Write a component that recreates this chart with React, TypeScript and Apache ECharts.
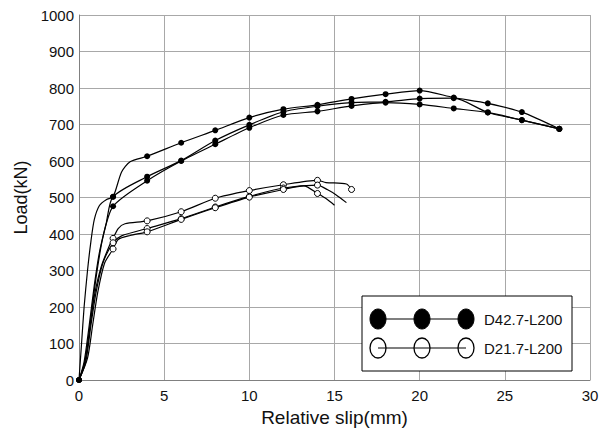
import React, { useEffect, useRef } from "react";
import * as echarts from "echarts";

// [slip (mm), load (kN), marker flag]
const d42A: number[][] = [
  [0, 0, 1], [0.15, 100, 0], [0.3, 200, 0], [0.5, 300, 0], [0.7, 380, 0], [0.9, 440, 0], [1.2, 478, 0], [1.6, 494, 0], [2, 502, 1],
  [2.5, 570, 0], [3, 598, 0], [4, 613, 1], [6, 650, 1], [8, 684, 1], [10, 719, 1], [12, 742, 1], [14, 754, 1],
  [16, 770, 1], [18, 783, 1], [20, 793, 1], [22, 774, 1], [24, 758, 1], [26, 734, 1], [28.2, 688, 1],
];
const d42B: number[][] = [
  [0, 0, 1], [0.3, 50, 0], [0.6, 150, 0], [0.9, 260, 0], [1.2, 350, 0], [1.6, 430, 0], [2, 502, 1],
  [4, 557, 1], [6, 601, 1], [8, 656, 1], [10, 699, 1], [12, 735, 1], [14, 750, 1], [16, 760, 1],
  [18, 762, 1], [20, 771, 1], [22, 772, 1], [24, 733, 1], [26, 712, 1], [28.2, 688, 1],
];
const d42C: number[][] = [
  [0, 0, 1], [0.4, 60, 0], [0.7, 170, 0], [1.0, 280, 0], [1.4, 390, 0], [2, 476, 1],
  [4, 546, 1], [6, 600, 1], [8, 646, 1], [10, 691, 1], [12, 726, 1], [14, 736, 1], [16, 751, 1],
  [18, 760, 1], [20, 755, 1], [22, 744, 1], [24, 733, 1], [26, 712, 1], [28.2, 688, 1],
];
const d21D: number[][] = [
  [0, 0, 0], [0.3, 40, 0], [0.6, 130, 0], [0.9, 230, 0], [1.3, 310, 0], [1.8, 370, 0], [2, 388, 1],
  [2.3, 415, 0], [2.7, 428, 0], [4, 436, 1], [6, 461, 1], [8, 498, 1], [10, 519, 1], [12, 535, 1],
  [14, 547, 1], [14.5, 541, 0], [15.7, 537, 0], [16, 522, 1],
];
const d21E: number[][] = [
  [0, 0, 0], [0.4, 50, 0], [0.7, 150, 0], [1.0, 240, 0], [1.4, 320, 0], [2, 376, 1], [2.5, 395, 0],
  [4, 415, 1], [6, 442, 1], [8, 474, 1], [10, 503, 1], [12, 526, 1], [14, 534, 1],
  [14.6, 521, 0], [15.1, 507, 0], [15.7, 486, 0],
];
const d21F: number[][] = [
  [0, 0, 0], [0.5, 60, 0], [0.8, 150, 0], [1.1, 240, 0], [1.5, 320, 0], [2, 359, 1], [2.3, 385, 0], [3, 396, 0],
  [4, 406, 1], [6, 440, 1], [8, 472, 1], [10, 501, 1], [12, 522, 1], [13.2, 532, 0], [14, 511, 1],
  [14.5, 497, 0], [15, 479, 0],
];

const filledCurves = [d42A, d42B, d42C];
const openCurves = [d21D, d21E, d21F];
const legendNames = ["D42.7-L200", "D21.7-L200"];

const FONT = "Liberation Sans, Arial, sans-serif";

function toData(c: number[][]) {
  return c.map((p) => ({ value: [p[0], p[1]], symbol: p[2] ? "circle" : "none" }));
}

export default function App() {
  const ref = useRef<HTMLDivElement>(null);
  useEffect(() => {
    if (!ref.current) return;
    const chart = echarts.init(ref.current, null, { renderer: "svg" });
    const series: any[] = [];
    openCurves.forEach((c, i) =>
      series.push({
        type: "line",
        name: legendNames[1] + "-" + i,
        data: toData(c),
        smooth: 0.25,
        showAllSymbol: true,
        symbolSize: 6,
        lineStyle: { color: "#000", width: 1.2 },
        itemStyle: { color: "#fff", borderColor: "#000", borderWidth: 1 },
      })
    );
    filledCurves.forEach((c, i) =>
      series.push({
        type: "line",
        name: legendNames[0] + "-" + i,
        data: toData(c),
        smooth: 0.25,
        showAllSymbol: true,
        symbolSize: 6,
        lineStyle: { color: "#000", width: 1.2 },
        itemStyle: { color: "#000", borderColor: "#000", borderWidth: 0 },
      })
    );

    const lx = 378, rx = 466, mx = 422, y1 = 319, y2 = 348;
    const graphic: any[] = [
      { type: "rect", shape: { x: 362, y: 296, width: 210, height: 75 }, style: { fill: "#fff", stroke: "#000", lineWidth: 1 }, z: 100 },
      { type: "line", shape: { x1: lx, y1: y1, x2: rx, y2: y1 }, style: { stroke: "#000", lineWidth: 1.2 }, z: 101 },
      { type: "line", shape: { x1: lx, y1: y2, x2: rx, y2: y2 }, style: { stroke: "#000", lineWidth: 1.2 }, z: 101 },
    ];
    [lx, mx, rx].forEach((x) => {
      graphic.push({ type: "ellipse", shape: { cx: x, cy: y1, rx: 8, ry: 10 }, style: { fill: "#000", stroke: "#000" }, z: 102 });
      graphic.push({ type: "ellipse", shape: { cx: x, cy: y2, rx: 8, ry: 10 }, style: { fill: "none", stroke: "#000", lineWidth: 1.3 }, z: 102 });
    });
    graphic.push({ type: "text", x: 484, y: y1, style: { text: legendNames[0], font: `15px ${FONT}`, fill: "#111", verticalAlign: "middle" }, z: 102 });
    graphic.push({ type: "text", x: 484, y: y2, style: { text: legendNames[1], font: `15px ${FONT}`, fill: "#111", verticalAlign: "middle" }, z: 102 });

    chart.setOption({
      animation: false,
      backgroundColor: "#fff",
      grid: { left: 79, top: 15, right: 14, bottom: 52, containLabel: false },
      xAxis: {
        type: "value",
        min: 0,
        max: 30,
        interval: 5,
        name: "Relative slip(mm)",
        nameLocation: "middle",
        nameGap: 21,
        nameTextStyle: { fontFamily: FONT, fontSize: 19, color: "#111" },
        axisLine: { show: true, lineStyle: { color: "#808080", width: 1 } },
        axisTick: { show: false },
        axisLabel: { fontFamily: FONT, fontSize: 15, color: "#111", margin: 8, formatter: (v: number) => String(v) },
        splitLine: { show: true, lineStyle: { color: "#a8a8a8", width: 1 } },
      },
      yAxis: {
        type: "value",
        min: 0,
        max: 1000,
        interval: 100,
        name: "Load(kN)",
        nameLocation: "middle",
        nameGap: 46,
        nameTextStyle: { fontFamily: FONT, fontSize: 18, color: "#111" },
        axisLine: { show: true, lineStyle: { color: "#808080", width: 1 } },
        axisTick: { show: false },
        axisLabel: { fontFamily: FONT, fontSize: 15, color: "#111", margin: 5, formatter: (v: number) => String(v) },
        splitLine: { show: true, lineStyle: { color: "#a8a8a8", width: 1 } },
      },
      series,
      graphic,
    });
    return () => chart.dispose();
  }, []);
  return <div ref={ref} style={{ width: 604, height: 432, position: "absolute", left: 0, top: 0 }} />;
}
